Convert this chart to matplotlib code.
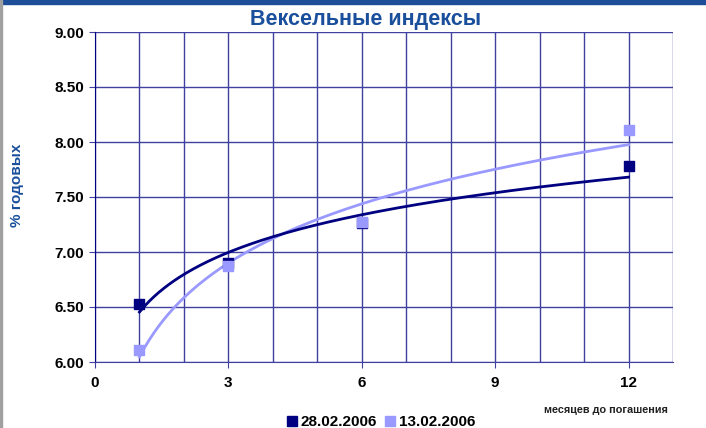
import numpy as np
import matplotlib.pyplot as plt
from matplotlib.lines import Line2D
from matplotlib.patches import Rectangle

# months to maturity and yields, % p.a.
months = [1, 3, 6, 12]
yield_0228 = [6.53, 6.90, 7.26, 7.78]
yield_0213 = [6.11, 6.87, 7.27, 8.11]
series_labels = ['28.02.2006', '13.02.2006']
y_ticks = [6.0, 6.5, 7.0, 7.5, 8.0, 8.5, 9.0]
x_ticks = [0, 3, 6, 9, 12]

dark = '#000080'
light = '#9999ff'
grid_c = '#4040a0'
title_c = '#1a4f9c'

plt.rcParams['font.family'] = ['Liberation Sans', 'DejaVu Sans']

fig = plt.figure(figsize=(7.06, 4.28), dpi=100)
ax = fig.add_axes([95 / 706, 1 - 362 / 428, (673 - 95) / 706, (362 - 32) / 428])

# window frame bits
fig.patches.append(Rectangle((0, 1 - 4 / 428), 1, 4 / 428, transform=fig.transFigure,
                             color='#1f4e99', zorder=0))
fig.patches.append(Rectangle((0, 0), 2 / 706, 1, transform=fig.transFigure,
                             color='#a0a0a0', zorder=0))

ax.set_xlim(0, 13)
ax.set_ylim(6.0, 9.0)
ax.set_xticks(x_ticks)
ax.set_xticks(np.arange(0, 14, 1), minor=True)
ax.set_yticks(y_ticks)
ax.set_yticklabels([f'{v:.2f}' for v in y_ticks])
ax.grid(True, which='both', color=grid_c, linewidth=1.0)
ax.set_axisbelow(True)
ax.tick_params(axis='both', which='major', direction='out', length=4, color=grid_c,
               labelsize=11, pad=4)
ax.tick_params(axis='x', which='major', pad=6)
ax.tick_params(axis='x', which='minor', length=0)
for lab in ax.get_xticklabels() + ax.get_yticklabels():
    lab.set_fontweight('bold')

for side in ['top', 'right']:
    ax.spines[side].set_visible(False)
ax.spines['left'].set_color(dark)
ax.spines['bottom'].set_color(grid_c)

# logarithmic trendlines
xs = np.linspace(1, 12, 200)
for ys, c in [(yield_0213, light), (yield_0228, dark)]:
    b, a = np.polyfit(np.log(months), ys, 1)
    ax.plot(xs, a + b * np.log(xs), color=c, linewidth=2, zorder=3)

ax.scatter(months, yield_0228, marker='s', s=60, color=dark, zorder=4)
ax.scatter(months, yield_0213, marker='s', s=60, color=light, zorder=5)

fig.text(366 / 706, 1 - 20 / 428, 'Вексельные индексы', ha='center', va='center',
         fontsize=15.5, fontweight='bold', color=title_c)
fig.text(17 / 706, 1 - 185 / 428, '% годовых', ha='center', va='center', rotation=90,
         fontsize=11, fontweight='bold', color=title_c)
fig.text(606 / 706, 1 - 410 / 428, 'месяцев до погашения', ha='center', va='center',
         fontsize=7.8, fontweight='bold', color='#202020')

handles = [Line2D([], [], marker='s', linestyle='none', color=c, markersize=7.5)
           for c in (dark, light)]
fig.legend(handles, series_labels, loc='center', bbox_to_anchor=(381 / 706, 1 - 422 / 428),
           ncol=2, frameon=False, handlelength=0.7, handletextpad=0.2, columnspacing=0.5,
           borderpad=0, prop={'weight': 'bold', 'size': 11})

fig.savefig('out.png', dpi=100)
